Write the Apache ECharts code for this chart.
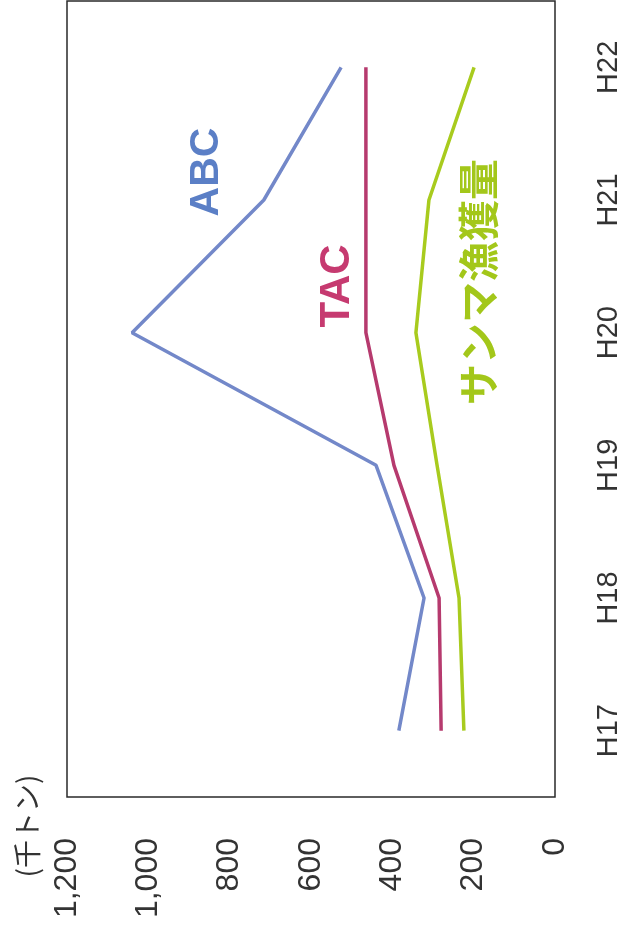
<!DOCTYPE html>
<html>
<head>
<meta charset="utf-8">
<script src="https://cdn.jsdelivr.net/npm/echarts@6/dist/echarts.min.js"></script>
<style>
html,body{margin:0;padding:0;background:#fff;}
#chart{width:623px;height:935px;}
</style>
</head>
<body>
<div id="chart"></div>
<script>
// Data (thousand tonnes)
const years = ['H17', 'H18', 'H19', 'H20', 'H21', 'H22'];
const abc = [384, 322, 440, 1040, 716, 526];
const tac = [280, 285, 396, 465, 465, 465];
const catchAmt = [224, 236, 290, 342, 310, 199];
const valueTicks = [0, 200, 400, 600, 800, 1000, 1200];
const unitLabel = '(千トン)';

const chart = echarts.init(document.getElementById('chart'), null, {renderer: 'canvas'});
const latin = '"Liberation Sans", Arial, sans-serif';
const cjk = '"Noto Sans CJK JP", sans-serif';

function pairs(arr) { return arr.map((v, i) => [v, years[i]]); }

chart.setOption({
  backgroundColor: '#ffffff',
  animation: false,
  grid: {
    left: 67, right: 66, top: 1, bottom: 138,
    show: true, borderColor: '#2a2a2a', borderWidth: 1.5, backgroundColor: 'transparent'
  },
  xAxis: {
    type: 'value', inverse: true, position: 'bottom',
    min: valueTicks[0], max: valueTicks[valueTicks.length - 1], interval: 200,
    axisLine: {show: false}, axisTick: {show: false}, splitLine: {show: false},
    axisLabel: {
      rotate: 90, margin: 41, fontSize: 32, color: '#333', fontFamily: latin,
      formatter: v => v.toLocaleString('en-US')
    }
  },
  yAxis: {
    type: 'category', position: 'right', data: years, boundaryGap: true,
    axisLine: {show: false}, axisTick: {show: false}, splitLine: {show: false},
    axisLabel: {rotate: 90, margin: 39, fontSize: 29, color: '#333', fontFamily: latin}
  },
  series: [
    {name: 'ABC', type: 'line', data: pairs(abc), symbol: 'none',
     lineStyle: {color: '#7388c9', width: 3.5}},
    {name: 'TAC', type: 'line', data: pairs(tac), symbol: 'none',
     lineStyle: {color: '#b63a6e', width: 3.5}},
    {name: 'サンマ漁獲量', type: 'line', data: pairs(catchAmt), symbol: 'none',
     lineStyle: {color: '#a8cb1e', width: 3.5}}
  ],
  graphic: [
    {type: 'text', x: 207, y: 172, rotation: Math.PI / 2,
     style: {text: 'ABC', fill: '#5b7fc6', font: 'bold 41px ' + latin, textAlign: 'center', textVerticalAlign: 'middle'}},
    {type: 'text', x: 337, y: 286, rotation: Math.PI / 2,
     style: {text: 'TAC', fill: '#c63a70', font: 'bold 42px ' + latin, textAlign: 'center', textVerticalAlign: 'middle'}},
    {type: 'text', x: 478, y: 282, rotation: Math.PI / 2,
     style: {text: 'サンマ漁獲量', fill: '#a3c71a', font: 'bold 41px ' + cjk, textAlign: 'center', textVerticalAlign: 'middle'}},
    {type: 'text', x: 27, y: 826, rotation: Math.PI / 2,
     style: {text: unitLabel, fill: '#333', font: '28px ' + cjk, textAlign: 'center', textVerticalAlign: 'middle'}}
  ]
});
</script>
</body>
</html>
